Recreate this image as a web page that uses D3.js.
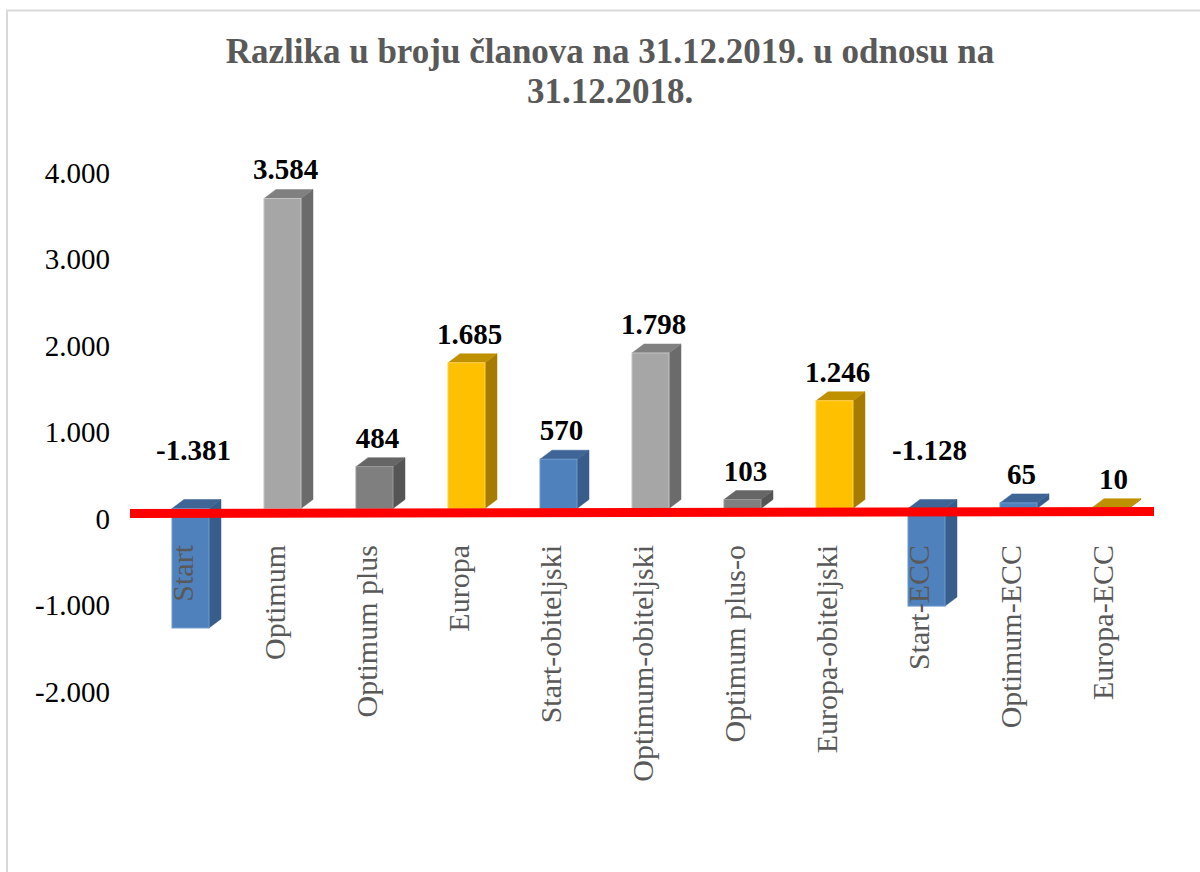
<!DOCTYPE html>
<html lang="hr">
<head>
<meta charset="utf-8">
<title>Razlika u broju članova</title>
<script src="https://cdn.jsdelivr.net/npm/d3@7"></script>
<style>
  body { margin: 0; background: #fff; }
  text { font-family: "Liberation Serif", "Times New Roman", serif; }
</style>
</head>
<body>
<script>
// data
var categories = ["Start", "Optimum", "Optimum plus", "Europa", "Start-obiteljski",
                  "Optimum-obiteljski", "Optimum plus-o", "Europa-obiteljski",
                  "Start-ECC", "Optimum-ECC", "Europa-ECC"];
var values = [-1381, 3584, 484, 1685, 570, 1798, 103, 1246, -1128, 65, 10];
var colorGroup = ["blue", "light", "dark", "gold", "blue", "light", "dark", "gold", "blue", "blue", "gold"];
var yTicks = [-2000, -1000, 0, 1000, 2000, 3000, 4000];
var titleLines = ["Razlika u broju članova na 31.12.2019. u odnosu na", "31.12.2018."];

var w = 1200, h = 872;
var palette = {
  blue:  { front: "#4f81bd", side: "#385d8a", top: "#3e6596", edge: "#6e98cc" },
  light: { front: "#a6a6a6", side: "#6b6b6b", top: "#808080", edge: "#c4c4c4" },
  dark:  { front: "#7f7f7f", side: "#555555", top: "#666666", edge: "#9a9a9a" },
  gold:  { front: "#ffc000", side: "#a67c00", top: "#bf9000", edge: "#ffd24d" }
};

// croatian number style: dot for thousands, plain hyphen for minus
var hr = d3.formatLocale({ decimal: ",", thousands: ".", grouping: [3], currency: ["", ""], minus: "-" });
var fmt = hr.format(",d");

var svg = d3.select("body").append("svg")
    .attr("width", w)
    .attr("height", h);

// chart border (only top and left edges fall inside the picture)
svg.append("path")
    .attr("d", "M7,872 V10.5 H1200")
    .attr("fill", "none")
    .attr("stroke", "#d9d9d9")
    .attr("stroke-width", 2);

// title
svg.append("text")
    .attr("x", 610)
    .attr("y", 63)
    .attr("text-anchor", "middle")
    .attr("font-size", 35)
    .attr("font-weight", "bold")
    .attr("fill", "#595959")
    .selectAll("tspan")
    .data(titleLines)
    .enter().append("tspan")
    .attr("x", 610)
    .attr("dy", function(d, i) { return i ? 40 : 0; })
    .text(function(d) { return d; });

var y = d3.scaleLinear().domain([-2000, 4000]).range([692, 173]);
var x = d3.scaleBand().domain(categories).range([144.5, 1156.5]).padding(0);

var barW = 37, dx = 12, dy = 9, shift = 10.5; // 3d depth and front-face offset
function yf(v) { return y(v) - shift; }

// y axis
var yAxis = d3.axisLeft(y)
    .tickValues(yTicks)
    .tickSize(0)
    .tickPadding(0)
    .tickFormat(fmt);

var ga = svg.append("g")
    .attr("transform", "translate(110,0)")
    .call(yAxis);
ga.select(".domain").remove();
ga.selectAll("text")
    .attr("font-family", "Liberation Serif, Times New Roman, serif")
    .attr("font-size", 29)
    .attr("fill", "#000");

// bars
var data = categories.map(function(c, i) {
  return { cat: c, v: values[i], col: palette[colorGroup[i]] };
});

var bars = svg.selectAll("g.bar")
    .data(data)
    .enter().append("g")
    .attr("class", "bar");

bars.each(function(d) {
  var g = d3.select(this);
  var cx = x(d.cat) + x.bandwidth() / 2;
  var x0 = cx - barW / 2, x1 = cx + barW / 2;
  var yTop = yf(Math.max(d.v, 0)), yBot = yf(Math.min(d.v, 0));
  // side face
  g.append("path")
      .attr("d", "M" + x1 + "," + yTop + "L" + (x1 + dx) + "," + (yTop - dy) +
                 "L" + (x1 + dx) + "," + (yBot - dy) + "L" + x1 + "," + yBot + "Z")
      .attr("fill", d.col.side)
      .attr("stroke", d.col.side)
      .attr("stroke-width", 0.5);
  // top face
  g.append("path")
      .attr("d", "M" + x0 + "," + yTop + "L" + x1 + "," + yTop +
                 "L" + (x1 + dx) + "," + (yTop - dy) + "L" + (x0 + dx) + "," + (yTop - dy) + "Z")
      .attr("fill", d.col.top)
      .attr("stroke", d.col.top)
      .attr("stroke-width", 0.5);
  // front face
  g.append("rect")
      .attr("x", x0)
      .attr("y", yTop)
      .attr("width", barW)
      .attr("height", Math.max(yBot - yTop, 0.5))
      .attr("fill", d.col.front)
      .attr("stroke", d.col.edge)
      .attr("stroke-width", 1);
});

// red zero line
svg.append("line")
    .attr("x1", 130).attr("y1", yf(0) + 5)
    .attr("x2", 1154).attr("y2", yf(0) + 3)
    .attr("stroke", "#ff0000")
    .attr("stroke-width", 9);

// category labels (rotated)
svg.selectAll("text.cat")
    .data(data)
    .enter().append("text")
    .attr("class", "cat")
    .attr("transform", function(d) {
      var cx = x(d.cat) + x.bandwidth() / 2 - 8;
      return "translate(" + cx + ",545) rotate(-90)";
    })
    .attr("text-anchor", "end")
    .attr("dy", "0.35em")
    .attr("font-size", 30)
    .attr("fill", "#595959")
    .text(function(d) { return d.cat; });

// value labels
svg.selectAll("text.val")
    .data(data)
    .enter().append("text")
    .attr("class", "val")
    .attr("x", function(d) { return x(d.cat) + x.bandwidth() / 2 + 3; })
    .attr("y", function(d) { return d.v >= 0 ? yf(d.v) - dy - 10 : yf(0) - 49; })
    .attr("text-anchor", "middle")
    .attr("font-size", 29)
    .attr("font-weight", "bold")
    .attr("fill", "#000")
    .text(function(d) { return fmt(d.v); });
</script>
</body>
</html>
